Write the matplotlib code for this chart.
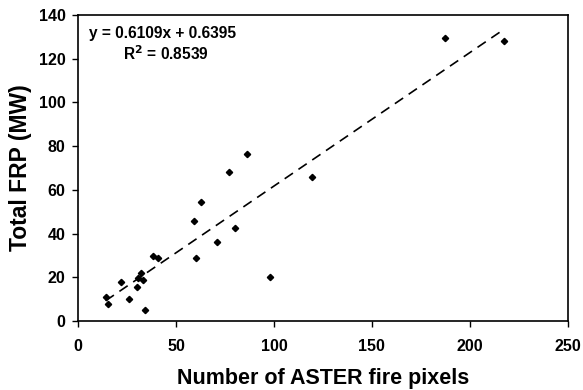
import matplotlib
matplotlib.use("Agg")
import matplotlib.pyplot as plt
import numpy as np

# ASTER fire pixel counts vs total FRP (MW)
aster_pixels = [14.1, 15.2, 21.9, 26.0, 29.9, 30.8, 32.1, 33.2, 34.2, 38.1, 41.0,
                59.0, 60.0, 62.9, 71.1, 77.2, 80.1, 86.2, 98.0, 119.2, 187.2, 217.3]
total_frp = [11.1, 7.8, 17.7, 10.2, 15.7, 19.5, 22.1, 18.6, 5.2, 29.9, 28.7,
             45.7, 29.0, 54.4, 36.3, 68.0, 42.5, 76.4, 20.1, 65.9, 129.3, 128.2]

SLOPE = 0.6109
INTERCEPT = 0.6395
R2 = 0.8539

plt.rcParams["font.family"] = ["Liberation Sans", "DejaVu Sans"]
plt.rcParams["font.weight"] = "bold"

fig = plt.figure(figsize=(5.83, 3.90), dpi=100)
ax = fig.add_axes([0.1338, 0.177, 0.8402, 0.7845])

ax.plot(aster_pixels, total_frp, "D", color="black", markersize=3.2, linestyle="none")

# linear trendline over the data range
xs = np.array([min(aster_pixels), max(aster_pixels)])
ax.plot(xs, SLOPE * xs + INTERCEPT, color="black", lw=1.2, dashes=(6, 4))

ax.set_xlim(0, 250)
ax.set_ylim(0, 140)
ax.set_xticks(range(0, 251, 50))
ax.set_yticks(range(0, 141, 20))
ax.tick_params(direction="out", length=4, width=1, labelsize=11.5)
ax.tick_params(axis="x", pad=9)
ax.tick_params(axis="y", pad=5)
for lab in ax.get_xticklabels() + ax.get_yticklabels():
    lab.set_fontweight("bold")
for sp in ax.spines.values():
    sp.set_linewidth(1.2)

ax.set_xlabel("Number of ASTER fire pixels", fontsize=15.5, fontweight="bold", labelpad=10)
ax.set_ylabel("Total FRP (MW)", fontsize=16.5, fontweight="bold", labelpad=5)

ax.text(0.022, 0.94, "y = %.4fx + %.4f" % (SLOPE, INTERCEPT), transform=ax.transAxes,
        fontsize=11.2, fontweight="bold", va="center", ha="left")
ax.text(0.092, 0.875, "R$^\\mathbf{2}$ = %.4f" % R2, transform=ax.transAxes,
        fontsize=11.2, fontweight="bold", va="center", ha="left")

fig.savefig("out.png", dpi=100)
